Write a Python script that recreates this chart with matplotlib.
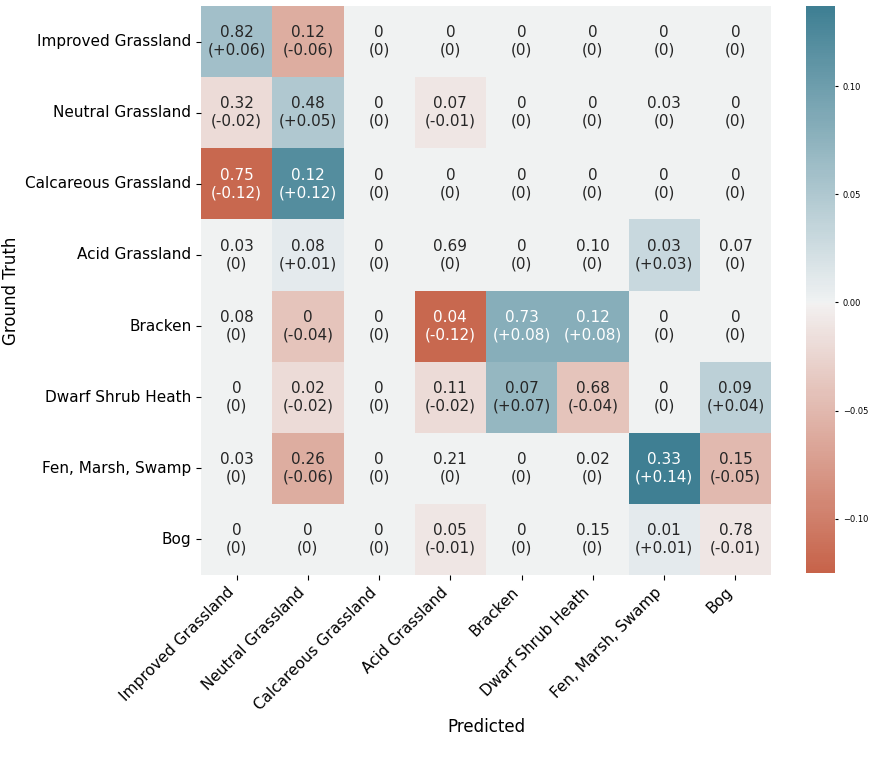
import matplotlib

matplotlib.use("Agg")
import matplotlib.pyplot as plt
import numpy as np
import seaborn as sns

classes = [
    "Improved Grassland",
    "Neutral Grassland",
    "Calcareous Grassland",
    "Acid Grassland",
    "Bracken",
    "Dwarf Shrub Heath",
    "Fen, Marsh, Swamp",
    "Bog",
]

# normalised confusion matrix (rows = ground truth, cols = predicted)
values = np.array([
    [0.82, 0.12, 0, 0, 0, 0, 0, 0],
    [0.32, 0.48, 0, 0.07, 0, 0, 0.03, 0],
    [0.75, 0.12, 0, 0, 0, 0, 0, 0],
    [0.03, 0.08, 0, 0.69, 0, 0.10, 0.03, 0.07],
    [0.08, 0, 0, 0.04, 0.73, 0.12, 0, 0],
    [0, 0.02, 0, 0.11, 0.07, 0.68, 0, 0.09],
    [0.03, 0.26, 0, 0.21, 0, 0.02, 0.33, 0.15],
    [0, 0, 0, 0.05, 0, 0.15, 0.01, 0.78],
])

# change relative to baseline
diffs = np.array([
    [0.06, -0.06, 0, 0, 0, 0, 0, 0],
    [-0.02, 0.05, 0, -0.01, 0, 0, 0, 0],
    [-0.12, 0.12, 0, 0, 0, 0, 0, 0],
    [0, 0.01, 0, 0, 0, 0, 0.03, 0],
    [0, -0.04, 0, -0.12, 0.08, 0.08, 0, 0],
    [0, -0.02, 0, -0.02, 0.07, -0.04, 0, 0.04],
    [0, -0.06, 0, 0, 0, 0, 0.14, -0.05],
    [0, 0, 0, -0.01, 0, 0, 0.01, -0.01],
])

color_min = -0.125
color_max = 0.137


def fmt_cell(v: float, d: float) -> str:
    top = "0" if v == 0 else f"{v:.2f}"
    bottom = "(0)" if d == 0 else f"({d:+.2f})"
    return f"{top}\n{bottom}"


annot = np.array([[fmt_cell(v, d) for v, d in zip(vr, dr)] for vr, dr in zip(values, diffs)])

fig = plt.figure(figsize=(8.86, 7.71), dpi=100)
ax = fig.add_axes([201 / 886, 1 - 575 / 771, 570 / 886, 569 / 771])
cax = fig.add_axes([806 / 886, 1 - 573 / 771, 29 / 886, 567 / 771])

cmap = sns.diverging_palette(20, 220, as_cmap=True)
sns.heatmap(
    diffs,
    ax=ax,
    cbar_ax=cax,
    cmap=cmap,
    center=0,
    vmin=color_min,
    vmax=color_max,
    annot=annot,
    fmt="",
    annot_kws={"fontsize": 11},
    xticklabels=classes,
    yticklabels=classes,
)
ax.set_xticklabels(classes, rotation=45, ha="right", fontsize=11)
ax.set_yticklabels(classes, rotation=0, fontsize=11)
ax.set_xlabel("Predicted", fontsize=12)
ax.set_ylabel("Ground Truth", fontsize=12)
cax.tick_params(labelsize=6, length=2)

fig.savefig("out.png", dpi=100)
plt.close(fig)
